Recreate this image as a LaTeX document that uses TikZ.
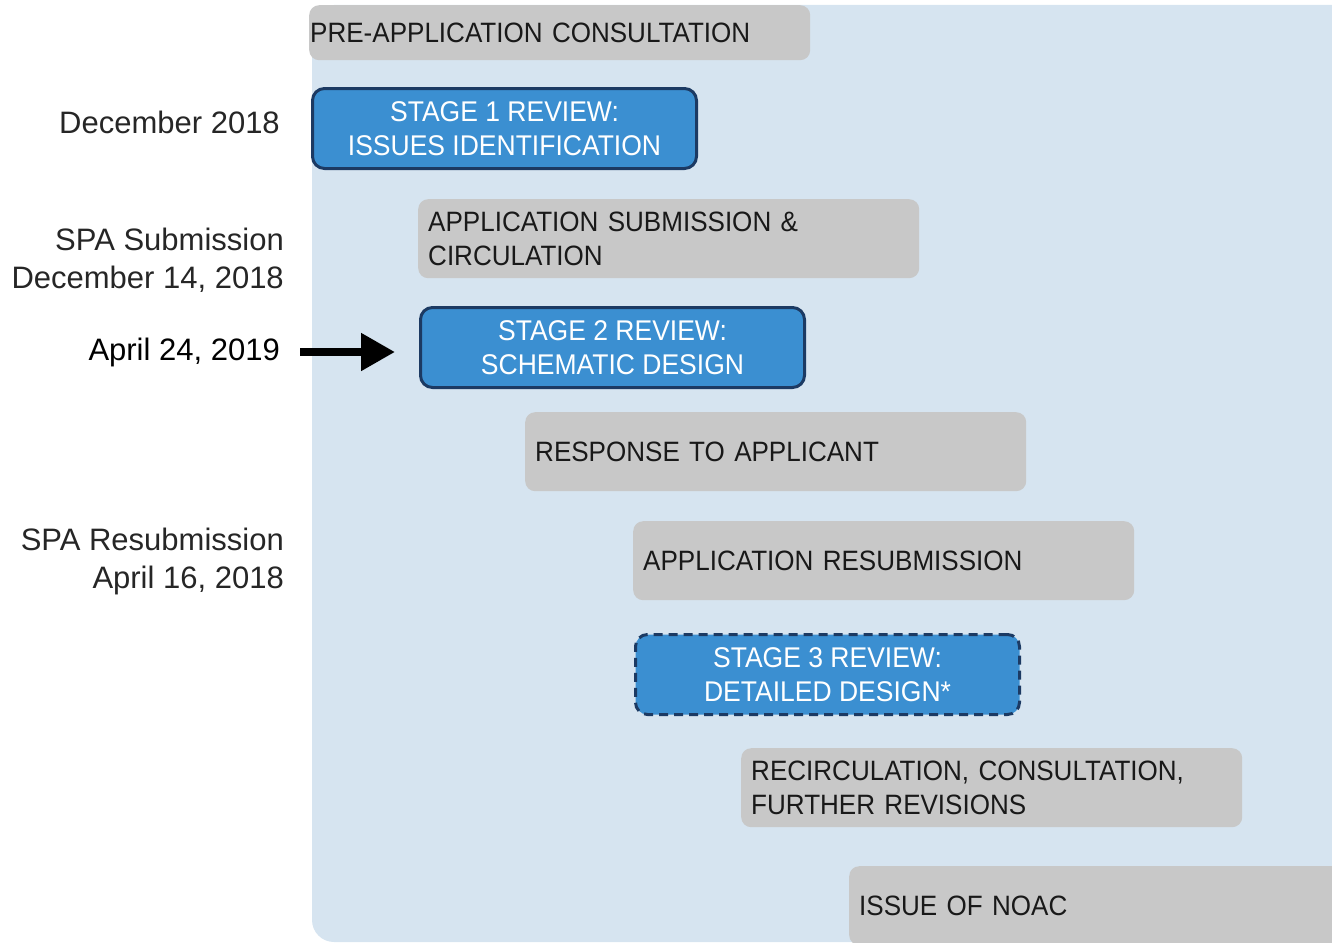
\documentclass[tikz,border=0pt]{standalone}
\usepackage{fontspec}
\setmainfont{Liberation Sans}
\newfontfamily\boxfont{Liberation Sans}[FakeStretch=0.93]
\usetikzlibrary{arrows.meta}
\definecolor{bgblue}{HTML}{D6E4F0}
\definecolor{boxgray}{HTML}{C8C8C8}
\definecolor{stageblue}{HTML}{3B8FD1}
\definecolor{stageedge}{HTML}{1C3A63}

\begin{document}
\begin{tikzpicture}[x=1pt,y=-1pt,
  graybox/.style={rectangle,rounded corners=10pt,fill=boxgray,anchor=north west,
    minimum height=79pt,text width=481pt,inner xsep=10pt,inner ysep=0pt,align=left,
    text=black!90,font=\boxfont\fontsize{28}{34}\selectfont},
  stagebox/.style={rectangle,rounded corners=12pt,fill=stageblue,draw=stageedge,
    line width=3pt,anchor=north west,minimum width=384pt,minimum height=80pt,
    inner sep=0pt,align=center,text=white,font=\boxfont\fontsize{28.5}{34}\selectfont},
  datelabel/.style={anchor=east,inner sep=0pt,align=right,text=black!85,
    font=\fontsize{31}{38}\selectfont}]
\useasboundingbox (0,0) rectangle (1332,942);
\clip (0,0) rectangle (1332,942);
\fill[bgblue,rounded corners=22pt] (312,5) rectangle (1380,942);
% process steps
\node[graybox,inner xsep=1pt,text width=499pt,minimum height=55pt] (pre) at (309,5) {PRE-APPLICATION CONSULTATION};
\node[stagebox] (stg1) at (311,87) {STAGE 1 REVIEW:\\ ISSUES IDENTIFICATION};
\node[graybox] (sub) at (418,199) {APPLICATION SUBMISSION \&\\ CIRCULATION};
\node[stagebox] (stg2) at (419,306) {STAGE 2 REVIEW:\\ SCHEMATIC DESIGN};
\node[graybox] (resp) at (525,412) {RESPONSE TO APPLICANT};
\node[graybox] (resub) at (633,521) {APPLICATION RESUBMISSION};
\node[stagebox,dash pattern=on 9pt off 6pt] (stg3) at (634,633) {STAGE 3 REVIEW:\\ DETAILED DESIGN*};
\node[graybox] (recirc) at (741,748) {RECIRCULATION, CONSULTATION,\\ FURTHER REVISIONS};
\node[graybox,text width=580pt] (noac) at (849,866) {ISSUE OF NOAC};
% dates
\node[datelabel] (dec) at (280,122) {December 2018};
\node[datelabel] (spasub) at (284,260) {SPA Submission\\ December 14, 2018};
\node[datelabel,text=black] (apr) at (280,352) {April 24, 2019};
\node[datelabel] (sparesub) at (284,561) {SPA Resubmission\\ April 16, 2018};
\draw[line width=8pt,-{Triangle[length=34pt,width=36pt]},shorten <=20pt,shorten >=24pt]
  (apr.east) -- (apr.east -| stg2.west);
\end{tikzpicture}
\end{document}
